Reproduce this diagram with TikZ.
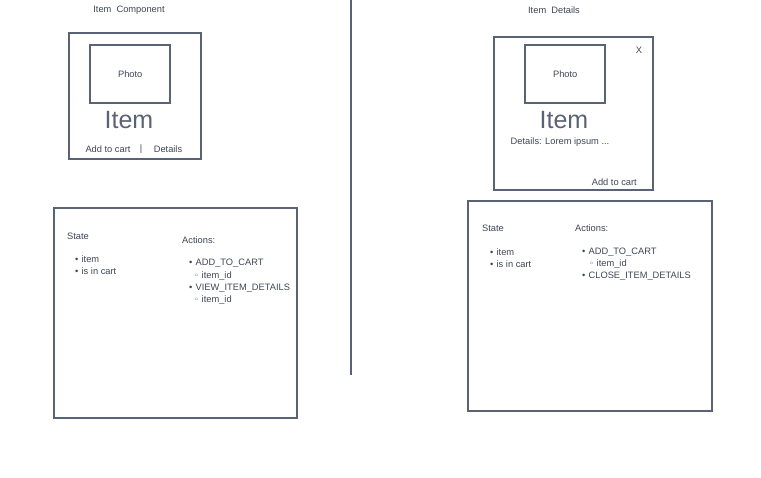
\documentclass[tikz,border=0pt]{standalone}
\usepackage{fontspec}
\setmainfont{Liberation Sans}
\newfontfamily\symfont{DejaVu Sans}
\usepackage {tikz}
\usetikzlibrary {positioning}
\definecolor{linecol}{HTML}{5A6275}
\definecolor{txtcol}{HTML}{3F4555}
\tikzset{
    frame/.style = {rectangle,draw=linecol,line width=2.4pt,inner sep=0pt,anchor=north west},
    divider/.style = {draw=linecol,line width=2.4pt},
    label/.style = {text=txtcol,inner sep=0pt,font=\fontsize{9.3}{11}\selectfont},
    entry/.style = {label,anchor=west},
    title/.style = {text=linecol,inner sep=0pt,font=\fontsize{25}{28}\selectfont}}
\newcommand{\dotitem}[1]{\textbullet\hspace{3.2pt}#1}
\newcommand{\ringitem}[1]{{\symfont\fontsize{8.5}{9}\selectfont ◦}\hspace{2.5pt}#1}

\begin{document}
\begin{tikzpicture}[x=1pt,y=-1pt]
    \useasboundingbox (0,0) rectangle (761,477);
    % left: item component
    \node[label] (leftname) at (129,10) {Item\ \ Component};
    \node[frame,minimum width=132pt,minimum height=126pt] (card) at (68,32) {};
    \node[frame,minimum width=80pt,minimum height=58pt] (photo) at (89,44) {};
    \node[label] (phototext) at (photo.center) {Photo};
    \node[title] (itemname) at (129,120) {Item};
    \node[label] (addcart) at (108,149) {Add to cart};
    \node[label] (sep) at (141,149) {|};
    \node[label] (details) at (168,149) {Details};
    \node[frame,minimum width=243pt,minimum height=210pt] (leftstate) at (53,207) {};
    \node[entry] (lsth) at (67,236) {State};
    \node[entry] (ls1) at (75,259) {\dotitem{item}};
    \node[entry] (ls2) at (75,271) {\dotitem{is in cart}};
    \node[entry] (lact) at (182,240) {Actions:};
    \node[entry] (la1) at (189,263) {\dotitem{ADD\_TO\_CART}};
    \node[entry] (la1a) at (194,276) {\ringitem{item\_id}};
    \node[entry] (la2) at (189,288) {\dotitem{VIEW\_ITEM\_DETAILS}};
    \node[entry] (la2a) at (194,300) {\ringitem{item\_id}};

    \coordinate (divtop) at (351,0);
    \coordinate (divbot) at (351,375);
    \draw[divider] (divtop) -- (divbot);

    % right: item details
    \node[label] (rightname) at (554,10) {Item\ \ Details};
    \node[frame,minimum width=159pt,minimum height=153pt] (dcard) at (493,36) {};
    \node[frame,minimum width=80pt,minimum height=58pt] (dphoto) at (524,44) {};
    \node[label] (dphototext) at (dphoto.center) {Photo};
    \node[label] (close) at (639,50) {X};
    \node[title] (ditemname) at (564,120) {Item};
    \node[label] (dtext) at (560,142) {Details: Lorem ipsum ...};
    \node[label,anchor=east] (daddcart) at (637,182) {Add to cart};
    \node[frame,minimum width=244pt,minimum height=210pt] (rightstate) at (467,200) {};
    \node[entry] (rsth) at (482,228) {State};
    \node[entry] (rs1) at (490,252) {\dotitem{item}};
    \node[entry] (rs2) at (490,264) {\dotitem{is in cart}};
    \node[entry] (ract) at (575,228) {Actions:};
    \node[entry] (ra1) at (582,252) {\dotitem{ADD\_TO\_CART}};
    \node[entry] (ra1a) at (589,264) {\ringitem{item\_id}};
    \node[entry] (ra2) at (582,276) {\dotitem{CLOSE\_ITEM\_DETAILS}};
\end{tikzpicture}
\end{document}
